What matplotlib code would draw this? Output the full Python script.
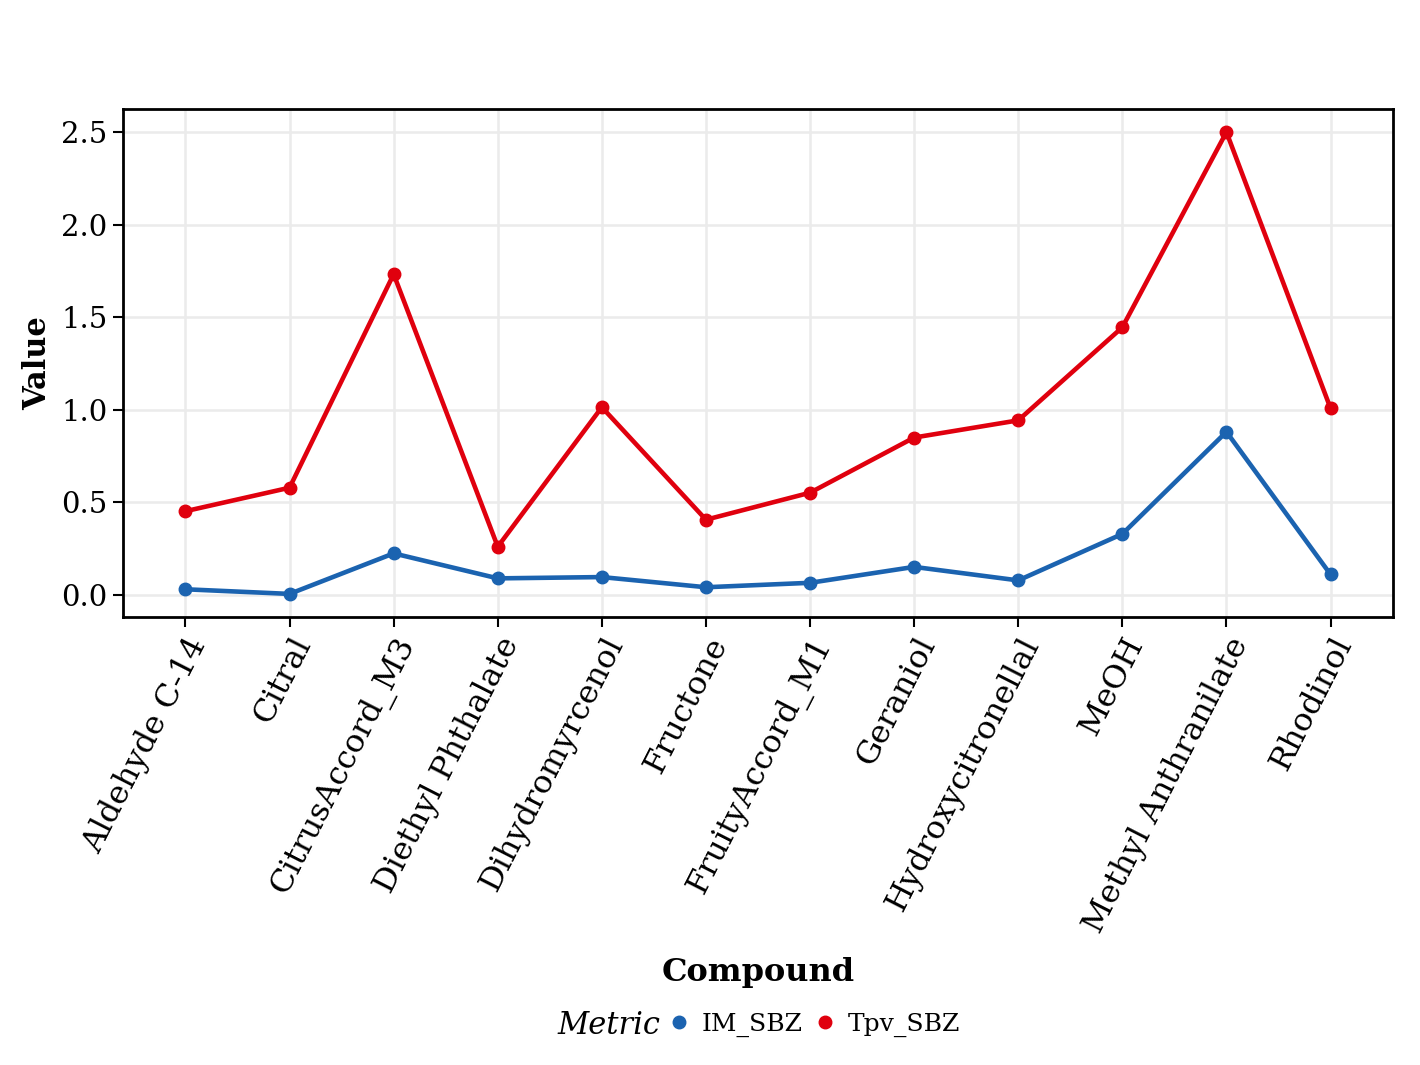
import matplotlib
matplotlib.use("Agg")
import matplotlib.pyplot as plt
from matplotlib.lines import Line2D

compounds = ["Aldehyde C-14", "Citral", "CitrusAccord_M3", "Diethyl Phthalate",
             "Dihydromyrcenol", "Fructone", "FruityAccord_M1", "Geraniol",
             "Hydroxycitronellal", "MeOH", "Methyl Anthranilate", "Rhodinol"]
im_sbz = [0.029, 0.004, 0.223, 0.088, 0.095, 0.040, 0.064, 0.150, 0.077, 0.328, 0.880, 0.109]
tpv_sbz = [0.451, 0.578, 1.732, 0.259, 1.013, 0.405, 0.551, 0.849, 0.942, 1.445, 2.500, 1.007]
series_names = ["IM_SBZ", "Tpv_SBZ"]
series_colors = ["#1B63B0", "#E0000E"]
y_ticks = [0.0, 0.5, 1.0, 1.5, 2.0, 2.5]

plt.rcParams['font.family'] = ['DejaVu Serif']

fig = plt.figure(figsize=(14.2, 10.65), dpi=100)
ax = fig.add_axes([123/1420, 1-617/1065, (1393-123)/1420, (617-109)/1065])

x = list(range(len(compounds)))
for vals, name, col in zip([im_sbz, tpv_sbz], series_names, series_colors):
    ax.plot(x, vals, color=col, lw=3.3, marker='o', markersize=9, zorder=3,
            solid_capstyle='butt')

n = len(compounds)
ax.set_xlim(-0.6, n - 1 + 0.6)
allv = im_sbz + tpv_sbz
lo, hi = min(allv), max(allv)
rng = hi - lo
ax.set_ylim(lo - 0.05 * rng, hi + 0.05 * rng)
ax.set_yticks(y_ticks)
ax.set_yticklabels([f"{v:.1f}" for v in y_ticks], fontsize=21)
ax.set_xticks(x)
ax.set_xticklabels(compounds, rotation=63, ha='right', va='top',
                   rotation_mode='anchor', fontsize=23)
ax.tick_params(axis='both', length=7, width=1.5, color='black', pad=4)
ax.grid(True, color='#EBEBEB', lw=1.8, zorder=0)
ax.set_axisbelow(True)
for s in ax.spines.values():
    s.set_linewidth(2.0)
    s.set_color('black')

ax.set_ylabel("Value", fontsize=22, fontweight='bold', labelpad=6)
fig.text(758/1420, 1-973/1065, "Compound", fontsize=23, fontweight='bold',
         ha='center', va='center')

ly = 1 - 1025/1065
fig.text(660/1420, ly, "Metric", fontsize=22, fontstyle='italic',
         ha='right', va='center')
handles = [Line2D([], [], color=c, marker='o', linestyle='none', markersize=9)
           for c in series_colors]
leg = fig.legend(handles, series_names, loc='center left',
                 bbox_to_anchor=(669/1420, ly), ncol=2, frameon=False,
                 fontsize=18, handlelength=0.8, handletextpad=0.5,
                 columnspacing=0.5, borderpad=0, borderaxespad=0)

fig.savefig("out.png", dpi=100, facecolor='white')
